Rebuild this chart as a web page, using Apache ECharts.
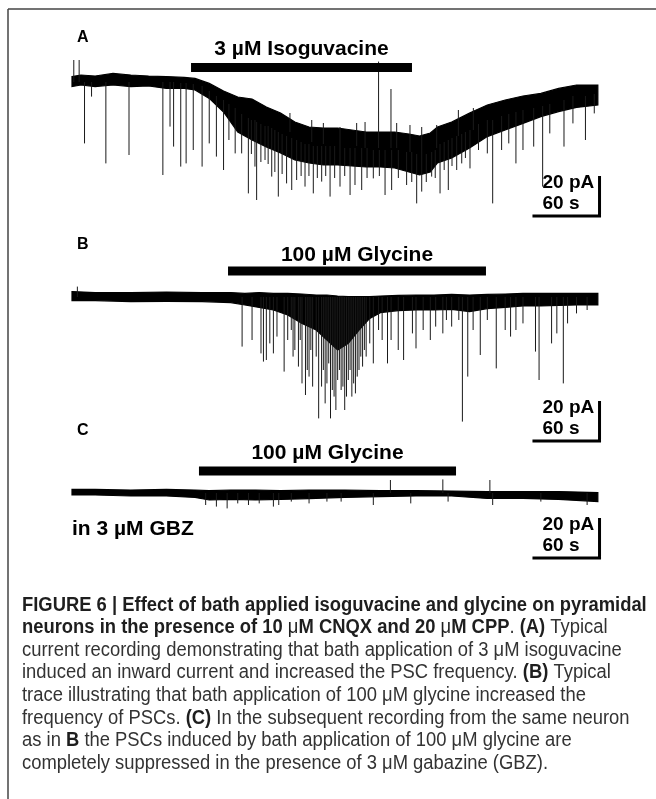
<!DOCTYPE html>
<html><head><meta charset="utf-8">
<script src="https://cdn.jsdelivr.net/npm/echarts@6.0.0/dist/echarts.min.js"></script>
<style>html,body{margin:0;padding:0;background:#fff}#c{width:656px;height:799px}</style>
</head><body><div id="c"></div>
<script>
// ---------------- DATA (time in s, current in pA) ----------------
// Trace A: noise band envelope
const tA  = [0,8.0,20.7,36.7,52.6,68.6,84.5,100.5,110.1,122.8,135.6,148.3,161.1,173.9,186.6,199.4,212.1,224.9,237.7,250.4,263.2,275.9,288.7,301.5,311.0,320.6,327.0,339.7,355.7,371.6,387.6,403.5,419.5,435.4,451.4,470.5];
const hiA = [2.7,3.5,3.0,4.3,3.5,3.0,2.7,2.3,1.8,-0.7,-4.5,-7.5,-8.5,-12.5,-15.5,-20.0,-22.5,-23.0,-23.0,-24.0,-25.0,-25.0,-25.0,-26.0,-27.0,-25.5,-22.5,-20.0,-15.5,-11.5,-9.0,-7.0,-5.7,-3.2,-1.5,-1.5];
const loA = [-2.3,-1.5,-2.3,-1.5,-2.3,-2.0,-3.2,-3.2,-4.0,-8.2,-15.0,-25.0,-29.0,-32.5,-35.5,-39.0,-40.5,-41.5,-41.5,-42.0,-42.5,-42.5,-43.0,-45.0,-46.5,-45.0,-40.5,-38.0,-33.0,-27.3,-24.0,-20.7,-17.3,-14.8,-12.7,-11.5];
// Trace A events: [time, start, tip]
const spikesA = [
 [1.6,0,11],[6.4,0,11],
 [11.2,0,-30.7],[17.5,0,-7.3],[30.3,0,-40.7],[51.0,0,-36.5],[81.3,0,-46.5],[87.7,0,-22.3],[90.9,0,-32.3],
 [97.3,-0.5,-42.3],[102.1,-0.5,-40.7],[108.5,-1,-34],[116.4,-2,-42.3],[122.8,-4.5,-30.7],[129.2,-7,-37.3],
 [135.6,-9,-44],[140.4,-11,-29],[146,-13,-35.7],
 [151.8,-16,-35.7],[157.8,-18,-55.7],[163.7,-19,-42.3],[165.2,-20,-59],[172.7,-22,-39],[178.7,-23,-47.3],
 [184.6,-25,-57.3],[192.0,-27,-50.7],[196.6,-28,-54],[201.0,-29,-49],[208.5,-31,-52.3],[215.9,-32,-55.7],
 [223.4,-32,-49.8],[230.9,-32,-57.3],[239.8,-32,-52.3],[248.8,-33,-56.5],[253.2,-33,-51.5],[259.2,-33,-54],
 [269.6,-34,-48.2],[280.1,-34,-56.5],[286.0,-34,-54],[299.4,-35,-51.5],[308.4,-36,-60.7],[312.9,-36,-54.8],
 [321.8,-35,-47.3],[329.3,-31,-55.7],[336.7,-29,-54],[344.2,-27,-44],[348.7,-26,-40.7],[356.1,-24,-43.2],
 [160.5,-19,-36],[169,-21,-40],[175.5,-22,-41],[181.5,-24,-45],[188,-26,-46],[205,-30,-47],[212,-31,-47],
 [219.5,-32,-48],[227,-32,-47],[235,-32,-48],[244,-33,-47],[264,-33,-48],[275,-34,-47],[292,-34,-48],
 [304,-35,-50],[317,-36,-50],[325,-34,-48],[333,-30,-44],[340,-28,-42],[352,-25,-38],
 [363.7,-21,-34],[371.6,-19,-35.7],[376.4,-19,-60.7],[384.4,-17,-34],[390.8,-16,-30.7],[397.2,-15,-40.7],
 [403.5,-14,-34],[413.1,-13,-32.3],[421.1,-12,-52.3],[427.5,-11,-25.7],[440.2,-9,-32.3],[448.2,-7,-20.7],
 [459.4,-7,-29],[467.3,-6,-15.7],
 [274.3,-33,10.2],[285.4,-33,-3.5],
 [195,-25,-15.5],[214.5,-30,-19],[224.9,-31,-20.5],[239.8,-32,-22.5],[254.7,-32,-20.5],[262.2,-33,-20],
 [290.5,-33,-20.5],[302.4,-35,-21.5],[312.9,-36,-22.5],[326.3,-33,-21.5],[345.7,-27,-14],[359.1,-24,-13]
];
// Trace B
const tB  = [0,20.7,52.6,84.5,116.4,142.0,154.7,167.5,180.2,193.0,205.8,218.5,228.1,237.7,247.2,256.8,266.4,275.9,291.9,307.8,323.8,339.7,355.7,371.6,387.6,403.5,419.5,435.4,451.4,470.5];
const hiB = [2.7,2.2,2.2,2.5,2.2,2.2,1.8,2.2,1.8,1.8,1.5,1.0,1.0,0.5,0.2,0.2,0.2,0.5,0.8,1.0,1.0,1.3,1.0,1.3,1.5,1.8,1.8,1.8,1.8,1.8];
const loB = [-1.8,-1.8,-2.3,-2.2,-2.3,-2.8,-4.0,-5.2,-6.5,-9.0,-13.2,-16.5,-21.5,-26.5,-23.2,-16.5,-10.7,-7.8,-6.8,-6.5,-6.5,-6.2,-7.3,-5.8,-5.2,-4.5,-4.5,-4.2,-4.0,-4.0];
const spikesB = [
 [4.8,0,5.2],
 [152.2,0,-24.8],[161.1,0,-21.5],[169.1,0,-28.2],[171.3,0,-32.3],[173.9,0,-31.5],[177.0,0,-23.2],[180.2,0,-28.2],
 [183.4,0,-19.8],[189.8,0,-37.3],[196.2,0,-16.5],[199.4,0,-26.5],[202.6,0,-34.8],[205.8,0,-43.2],[208.9,0,-49.0],
 [212.1,0,-39.8],[215.3,0,-44.8],[218.5,0,-29.8],[220.7,0,-60.7],[224.9,0,-36.5],[228.1,0,-43.2],[231.3,0,-60.7],
 [234.5,0,-49.8],[237.7,0,-41.5],[240.8,0,-46.5],[244.0,0,-56.5],[247.2,0,-41.5],[250.4,0,-49.8],[253.6,0,-48.2],
 [256.8,0,-36.5],[260.0,0,-34.8],[263.2,0,-29.8],[266.4,0,-23.2],[269.6,0,-33.2],[274.3,0,-16.5],[277.5,0,-21.5],
 [282.3,0,-33.2],[285.5,0,-21.5],[291.9,0,-26.5],[296.7,0,-31.5],[304.6,0,-18.2],[307.8,0,-25.7],[314.2,0,-16.5],
 [320.6,0,-21.5],[325.4,0,-14.8],[331.8,0,-18.2],[335.0,0,-11.5],[339.7,0,-14.8],[346.1,0,-11.5],[349.3,0,-62.3],
 [354.1,0,-39.8],[358.9,0,-16.5],[365.3,0,-29.0],[371.6,0,-11.5],[379.6,0,-35.7],[387.6,0,-16.5],[392.4,0,-19.8],
 [397.2,0,-16.5],[403.5,0,-13.2],[414.7,0,-27.3],[417.9,0,-41.5],[429.1,0,-23.2],[433.8,0,-18.2],[439.6,0,-43.2],
 [443.4,0,-13.2],[451.4,0,-8.2],[460.9,0,-6.5],
 [193.0,0,-21.5],[197.8,0,-29.8],[204.2,0,-21.5],[210.5,0,-36.5],[213.7,0,-26.5],[223.3,0,-44.8],[226.5,0,-53.2],
 [229.7,0,-33.2],[232.9,0,-46.5],[236.1,0,-56.5],[239.3,0,-36.5],[242.4,0,-44.8],[245.6,0,-49.8],[248.8,0,-36.5],
 [252.0,0,-43.2],[255.2,0,-39.8],[258.4,0,-29.8],[261.6,0,-26.5]
];
// Trace C
const tC  = [0,20.7,52.6,84.5,110.1,122.8,142.0,164.3,186.6,212.1,244.0,275.9,307.8,339.7,371.6,403.5,435.4,470.5];
const hiC = [1.8,1.8,1.5,1.8,1.5,1.2,1.5,1.5,1.2,1.5,1.5,1.2,1.2,1.0,0.7,0.7,0.7,0.2];
const loC = [-1.0,-1.0,-1.5,-1.5,-2.2,-3.5,-3.2,-3.5,-3.2,-2.8,-2.2,-1.8,-1.5,-1.5,-2.7,-2.7,-3.2,-4.3];
const spikesC = [
 [119.6,0,-6.0],[129.2,0,-6.8],[138.8,0,-7.7],[148.3,0,-5.2],[157.9,0,-6.0],[167.5,0,-5.2],[180.2,0,-6.8],
 [185.0,0,-6.0],[196.2,0,-4.3],[212.1,0,-5.2],[228.1,0,-4.3],[240.8,0,-4.3],[269.6,0,-6.0],[303.1,0,-5.2],
 [336.5,0,-4.3],[376.4,0,-6.0],[419.5,0,-4.3],[460.9,0,-6.0],
 [284.9,0,6.5],[331.8,0,6.8],[373.9,0,6.5]
];
// Drug applications
const drugLabels = ['3 µM Isoguvacine', '100 µM Glycine', '100 µM Glycine'];
const drugStart  = [106.5, 139.6, 113.6];
const drugEnd    = [304.2, 370.4, 343.6];
// Scale bars
const scaleTime = 60;     // s
const scaleCurrent = 20;  // pA
const scaleLabels = ['20 pA', '60 s'];
// Panel text
const panelLetters = ['A', 'B', 'C'];
const conditionText = 'in 3 µM GBZ';
const captionLines = [
 '{b|FIGURE 6 | Effect of bath applied isoguvacine and glycine on pyramidal}',
 '{b|neurons in the presence of 10 }{m|μ}{b|M CNQX and 20 }{m|μ}{b|M CPP}{r|. }{b|(A)}{r| Typical}',
 '{r|current recording demonstrating that bath application of 3 μM isoguvacine}',
 '{r|induced an inward current and increased the PSC frequency. }{b|(B)}{r| Typical}',
 '{r|trace illustrating that bath application of 100 μM glycine increased the}',
 '{r|frequency of PSCs. }{b|(C)}{r| In the subsequent recording from the same neuron}',
 '{r|as in }{b|B}{r| the PSCs induced by bath application of 100 μM glycine are}',
 '{r|completely suppressed in the presence of 3 μM gabazine (GBZ).}'
];

// ---------------- LAYOUT ----------------
const FONT = '"Liberation Sans", Arial, Helvetica, sans-serif';
const PX_PER_PA = 2;
const layout = [
 {top: 20,  vmin: -69,   vmax: 31,   barV: 7.25, textV: 16.5,  scaleT0: 412, scaleV: -67,   letterY: 37.5},
 {top: 230, vmin: -76.5, vmax: 33.5, barV: 13,   textV: 21,    scaleT0: 412, scaleV: -72,   letterY: 245},
 {top: 440, vmin: -53.5, vmax: 26.5, barV: 11,   textV: 19.75, scaleT0: 412, scaleV: -32.5, letterY: 431}
];
const traces = [
 {t: tA, hi: hiA, lo: loA, spikes: spikesA},
 {t: tB, hi: hiB, lo: loB, spikes: spikesB},
 {t: tC, hi: hiC, lo: loC, spikes: spikesC}
];

const grids = [], xAxes = [], yAxes = [], series = [];
layout.forEach((L, i) => {
  grids.push({left: 72, width: 532, top: L.top, height: (L.vmax - L.vmin) * PX_PER_PA});
  xAxes.push({gridIndex: i, type: 'value', min: 0, max: 476, show: false});
  yAxes.push({gridIndex: i, type: 'value', min: L.vmin, max: L.vmax, show: false});
  const tr = traces[i];
  const bandData = tr.t.map((x, j) => [x, tr.hi[j], tr.lo[j]]);
  series.push({
    type: 'custom', xAxisIndex: i, yAxisIndex: i, silent: true, clip: false,
    data: bandData,
    renderItem: (params, api) => {
      if (params.dataIndex !== 0) return null;
      const up = bandData.map(d => api.coord([d[0], d[1]]));
      const dn = bandData.map(d => api.coord([d[0], d[2]])).reverse();
      return {type: 'polygon', shape: {points: up.concat(dn)},
              style: {fill: '#000', stroke: '#000', lineWidth: 1.2}};
    }
  });
  series.push({
    type: 'custom', xAxisIndex: i, yAxisIndex: i, silent: true, clip: false,
    data: tr.spikes,
    renderItem: (params, api) => {
      const a = api.coord([api.value(0), api.value(1)]);
      const b = api.coord([api.value(0), api.value(2)]);
      return {type: 'line', shape: {x1: a[0], y1: a[1], x2: b[0], y2: b[1]},
              style: {stroke: '#1a1a1a', lineWidth: 1}};
    }
  });
  // drug application bar + label
  series.push({
    type: 'custom', xAxisIndex: i, yAxisIndex: i, silent: true, clip: false,
    data: [[drugStart[i], drugEnd[i]]],
    renderItem: (params, api) => {
      const s = api.value(0), e = api.value(1);
      const p0 = api.coord([s, L.barV]), p1 = api.coord([e, L.barV]);
      const pt = api.coord([(s + e) / 2, L.textV]);
      return {type: 'group', children: [
        {type: 'rect', shape: {x: p0[0], y: p0[1] - 4.5, width: p1[0] - p0[0], height: 9}, style: {fill: '#000'}},
        {type: 'text', style: {text: drugLabels[i], x: pt[0], y: pt[1], align: 'center', verticalAlign: 'middle',
          font: 'bold 21px ' + FONT, fill: '#000'}}
      ]};
    }
  });
  // scale bar
  series.push({
    type: 'custom', xAxisIndex: i, yAxisIndex: i, silent: true, clip: false,
    data: [[scaleTime, scaleCurrent]],
    renderItem: (params, api) => {
      const dt = api.value(0), di = api.value(1);
      const c0 = api.coord([L.scaleT0, L.scaleV]);
      const c1 = api.coord([L.scaleT0 + dt, L.scaleV]);
      const c2 = api.coord([L.scaleT0 + dt, L.scaleV + di]);
      return {type: 'group', children: [
        {type: 'polyline', shape: {points: [c0, c1, c2]}, style: {stroke: '#000', lineWidth: 3, fill: null, lineJoin: 'miter', lineCap: 'butt'}},
        {type: 'text', style: {text: scaleLabels[0], x: c0[0] + 10, y: c1[1] - 33, align: 'left', verticalAlign: 'middle', font: 'bold 19px ' + FONT, fill: '#000'}},
        {type: 'text', style: {text: scaleLabels[1], x: c0[0] + 10, y: c1[1] - 12, align: 'left', verticalAlign: 'middle', font: 'bold 19px ' + FONT, fill: '#000'}}
      ]};
    }
  });
});

const graphic = [
  {type: 'line', shape: {x1: 8, y1: 9, x2: 656, y2: 9}, style: {stroke: '#444', lineWidth: 1.5}},
  {type: 'line', shape: {x1: 8, y1: 9, x2: 8, y2: 799}, style: {stroke: '#444', lineWidth: 1.5}}
];
layout.forEach((L, i) => {
  graphic.push({type: 'text', x: 77, y: L.letterY, style: {text: panelLetters[i], font: 'bold 16px ' + FONT, fill: '#000', verticalAlign: 'middle'}});
});
graphic.push({type: 'text', x: 72, y: 529, style: {text: conditionText, font: 'bold 21px ' + FONT, fill: '#000', verticalAlign: 'middle'}});
const capRich = {
  b: {fontFamily: FONT, fontSize: 20, fontWeight: 'bold', fill: '#1e1e1e'},
  m: {fontFamily: FONT, fontSize: 20, fontWeight: 'normal', fill: '#1e1e1e'},
  r: {fontFamily: FONT, fontSize: 20, fontWeight: 'normal', fill: '#333'}
};
captionLines.forEach((line, k) => {
  graphic.push({type: 'text', x: 22, y: 605 + k * 22.6, scaleX: 0.92,
    style: {text: line, rich: capRich, verticalAlign: 'middle', x: 0, y: 0}});
});

const chart = echarts.init(document.getElementById('c'), null, {renderer: 'canvas', width: 656, height: 799});
chart.setOption({animation: false, backgroundColor: '#fff', grid: grids, xAxis: xAxes, yAxis: yAxes, series, graphic});
</script>
</body></html>
